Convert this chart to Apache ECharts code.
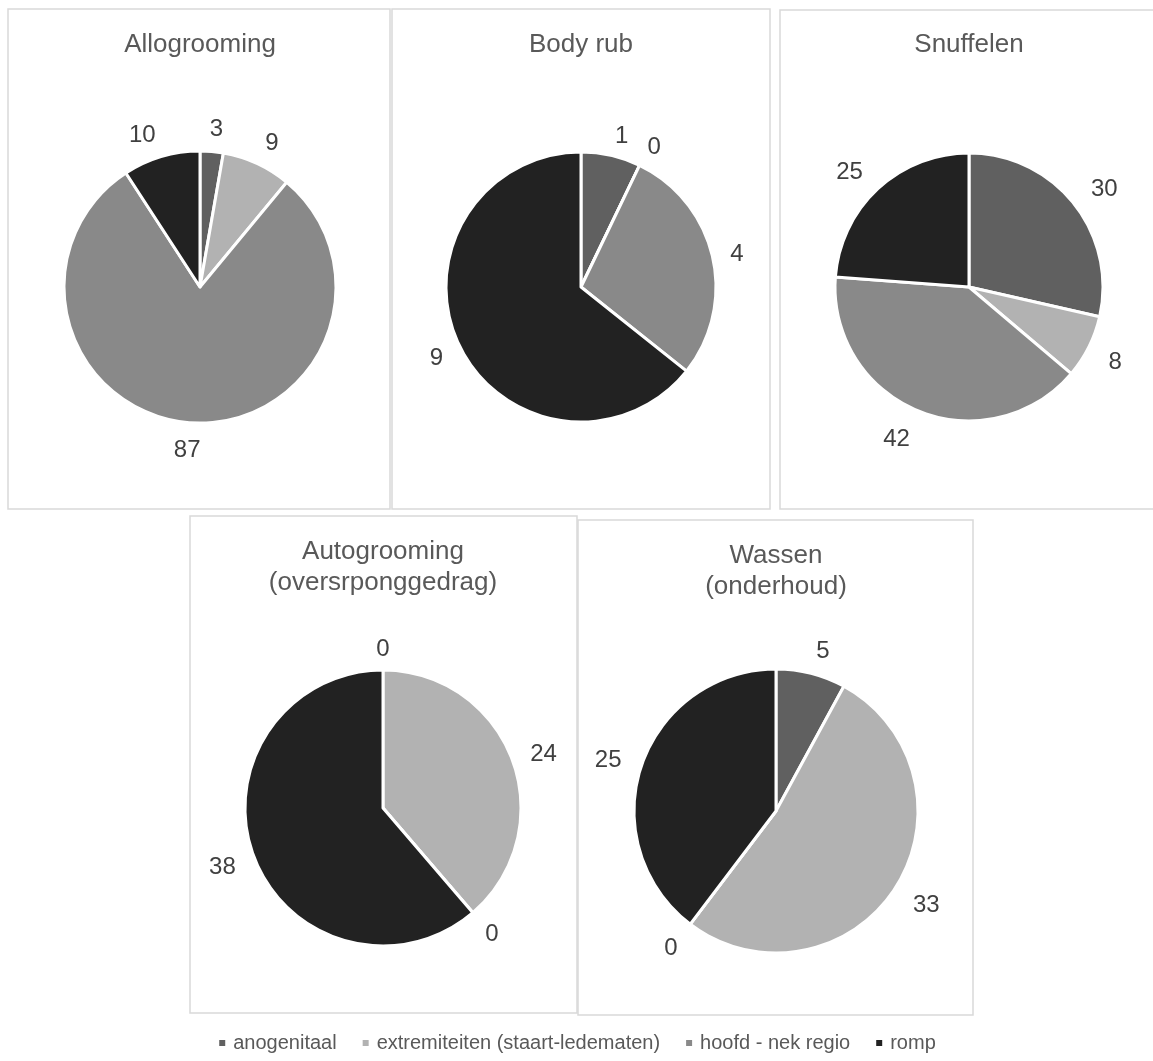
<!DOCTYPE html>
<html>
<head>
<meta charset="utf-8">
<script src="https://cdn.jsdelivr.net/npm/echarts@6/dist/echarts.min.js"></script>
<style>
  html, body { margin: 0; padding: 0; background: #ffffff; }
  #chart { width: 1153px; height: 1061px; }
</style>
</head>
<body>
<div id="chart"></div>
<script>
// Body regions, in legend order
const categories = ['anogenitaal', 'extremiteiten (staart-ledematen)', 'hoofd - nek regio', 'romp'];

// Counts per behaviour, one value per body region
const allogrooming = [3, 9, 87, 10];
const bodyRub = [1, 0, 4, 9];
const snuffelen = [30, 8, 42, 25];
const autogrooming = [0, 24, 0, 38];
const wassen = [5, 33, 0, 25];

const titles = ['Allogrooming', 'Body rub', 'Snuffelen', 'Autogrooming\n(oversrponggedrag)', 'Wassen\n(onderhoud)'];

const colors = ['#606060', '#b2b2b2', '#898989', '#222222'];
const FONT = '"Liberation Sans", Arial, Helvetica, sans-serif';

// Panel geometry: pie centre/radius, gap from rim to value label, framed box, title position
const panels = [
  { values: allogrooming, title: titles[0], cx: 200, cy: 287, r: 136, gap: 20, box: [8, 9, 382, 500], titleTop: 29 },
  { values: bodyRub,      title: titles[1], cx: 581, cy: 287, r: 135, gap: 18, box: [392, 9, 378, 500], titleTop: 29 },
  { values: snuffelen,    title: titles[2], cx: 969, cy: 287, r: 134, gap: 22, box: [780, 10, 380, 499], titleTop: 29 },
  { values: autogrooming, title: titles[3], cx: 383, cy: 808, r: 138, gap: 19, box: [190, 516, 387, 497], titleTop: 536 },
  { values: wassen,       title: titles[4], cx: 776, cy: 811, r: 142, gap: 21, box: [578, 520, 395, 495], titleTop: 540 }
];

function toData(values) {
  return categories.map((name, i) => ({ name: name, value: values[i] }));
}

// Place each value label at the end of its (invisible) guide line, sliding it
// sideways by half its width as the slice direction turns away from vertical,
// and a little further down for slices in the lower half.
function placeLabel(panel) {
  return function (params) {
    const pts = params.labelLinePoints;
    if (!pts || pts.length < 2) return {};
    const px = pts[1][0], py = pts[1][1];
    const dx = px - panel.cx, dy = py - panel.cy;
    const len = Math.sqrt(dx * dx + dy * dy) || 1;
    const ux = dx / len, uy = dy / len;
    const w = params.labelRect.width;
    const k = Math.max(-1, Math.min(1, ux / 0.2));
    return { x: px + k * w / 2, y: py + 3 + 5 * uy, align: 'center', verticalAlign: 'middle' };
  };
}

const series = panels.map(p => ({
  type: 'pie',
  center: [p.cx, p.cy],
  radius: [0, p.r],
  startAngle: 90,
  clockwise: true,
  silent: true,
  animation: false,
  avoidLabelOverlap: false,
  data: toData(p.values),
  itemStyle: { borderColor: '#ffffff', borderWidth: 3 },
  label: {
    show: true,
    position: 'outside',
    alignTo: 'none',
    distanceToLabelLine: 0,
    formatter: '{c}',
    fontSize: 24,
    fontFamily: FONT,
    color: '#404040'
  },
  labelLine: { show: true, length: p.gap, length2: 0, lineStyle: { opacity: 0 } },
  labelLayout: placeLabel(p),
  emphasis: { disabled: true }
}));

const titleList = panels.map(p => ({
  text: p.title,
  left: p.cx,
  top: p.titleTop,
  textAlign: 'center',
  padding: 0,
  textStyle: { fontSize: 26, fontWeight: 'normal', color: '#595959', fontFamily: FONT, lineHeight: 31 }
}));

const frames = panels.map(p => ({
  type: 'rect',
  silent: true,
  z: -1,
  shape: { x: p.box[0], y: p.box[1], width: p.box[2], height: p.box[3] },
  style: { fill: '#ffffff', stroke: '#d9d9d9', lineWidth: 1.5 }
}));

const chart = echarts.init(document.getElementById('chart'), null, { renderer: 'canvas' });
chart.setOption({
  animation: false,
  color: colors,
  backgroundColor: '#ffffff',
  title: titleList,
  graphic: frames,
  legend: {
    data: categories,
    left: 'center',
    top: 1028,
    icon: 'rect',
    itemWidth: 8,
    itemHeight: 8,
    itemGap: 24,
    selectedMode: false,
    textStyle: { fontSize: 20, color: '#595959', fontFamily: FONT, padding: [0, 0, 0, 2] }
  },
  series: series
});
</script>
</body>
</html>
